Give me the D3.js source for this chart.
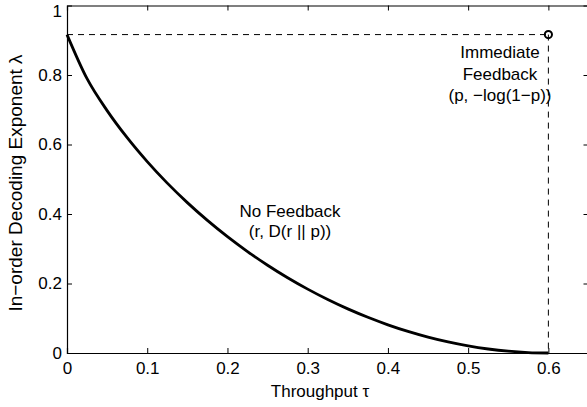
<!DOCTYPE html>
<html><head><meta charset="utf-8">
<script src="https://cdn.jsdelivr.net/npm/d3@7"></script>
<style>
html,body{margin:0;padding:0;background:#fff;}
svg{display:block;font-family:"Liberation Sans",Arial,Helvetica,sans-serif;}
</style></head>
<body>
<script>
// Data
const throughput = [0,0.025,0.05,0.075,0.1,0.125,0.15,0.175,0.2,0.225,0.25,0.275,0.3,0.325,0.35,0.375,0.4,0.425,0.45,0.475,0.5,0.525,0.55,0.575,0.6];
const exponent = [0.9163,0.7893,0.6975,0.6195,0.5507,0.4888,0.4328,0.3816,0.3348,0.2919,0.2526,0.2166,0.1838,0.1539,0.1269,0.1027,0.0811,0.0621,0.0457,0.0318,0.0204,0.0115,0.0051,0.0013,0];
const feedbackPoint = [0.6, 0.9163];
const xTicks = [0,0.1,0.2,0.3,0.4,0.5,0.6];
const yTicks = [0,0.2,0.4,0.6,0.8,1];
const xDomain = [0,0.65];
const yDomain = [0,1];

(function(){
const W=587,H=407;
const m={left:67,top:5.5,right:588.5,bottom:353};
const x=d3.scaleLinear().domain(xDomain).range([m.left,m.right]);
const y=d3.scaleLinear().domain(yDomain).range([m.bottom,m.top]);

const svg=d3.select("body").append("svg").attr("width",W).attr("height",H);

// dashed guides
svg.append("line").attr("x1",x(0)).attr("x2",x(feedbackPoint[0])).attr("y1",y(feedbackPoint[1])).attr("y2",y(feedbackPoint[1]))
  .attr("stroke","#000").attr("stroke-width",1).attr("stroke-dasharray","6,5");
svg.append("line").attr("x1",x(feedbackPoint[0])).attr("x2",x(feedbackPoint[0])).attr("y1",y(feedbackPoint[1])).attr("y2",y(0))
  .attr("stroke","#000").attr("stroke-width",1).attr("stroke-dasharray","6,5");

// curve
const pts=throughput.map((t,i)=>[t,exponent[i]]);
svg.append("path").datum(pts)
  .attr("d",d3.line().x(d=>x(d[0])).y(d=>y(d[1])).curve(d3.curveMonotoneX))
  .attr("fill","none").attr("stroke","#000").attr("stroke-width",2.8);

// point
svg.append("circle").attr("cx",x(feedbackPoint[0])).attr("cy",y(feedbackPoint[1])).attr("r",3.6)
  .attr("fill","none").attr("stroke","#000").attr("stroke-width",2);

// axes
const fs=17;
const gB=svg.append("g").attr("transform",`translate(0,${m.bottom})`)
  .call(d3.axisBottom(x).tickValues(xTicks).tickSize(-5).tickPadding(9).tickFormat(d3.format("")));
const gT=svg.append("g").attr("transform",`translate(0,${m.top})`)
  .call(d3.axisTop(x).tickValues(xTicks).tickSize(-5).tickFormat(""));
const gL=svg.append("g").attr("transform",`translate(${m.left},0)`)
  .call(d3.axisLeft(y).tickValues(yTicks).tickSize(-5).tickPadding(5).tickFormat(d3.format("")));
const gR=svg.append("g").attr("transform",`translate(${m.right},0)`)
  .call(d3.axisRight(y).tickValues(yTicks).tickSize(-5).tickFormat(""));
[gB,gT,gL,gR].forEach(g=>{
  g.select(".domain").attr("stroke","#000").attr("stroke-width",1.2);
  g.selectAll(".tick line").attr("stroke","#000").attr("stroke-width",1);
  g.selectAll("text").attr("font-size",fs).attr("fill","#000").attr("font-family","'Liberation Sans',Arial,sans-serif");
});
gB.selectAll(".tick").filter(d=>d===0).select("line").remove();
gT.selectAll(".tick").filter(d=>d===0).select("line").remove();
gL.selectAll(".tick").filter(d=>d===0||d===1).select("line").remove();
gR.selectAll(".tick").filter(d=>d===0||d===1).select("line").remove();
// keep the top "1" label inside the picture
gL.selectAll(".tick").filter(d=>d===1).select("text").attr("dy","0.62em");

// labels
svg.append("text").attr("x",320).attr("y",397).attr("text-anchor","middle").attr("font-size",fs).text("Throughput τ");
svg.append("text").attr("transform",`translate(22,183) rotate(-90)`).attr("text-anchor","middle").attr("font-size",19).text("In−order Decoding Exponent λ");

const ann1=[["Immediate",58],["Feedback",80],["(p, −log(1−p))",101]];
ann1.forEach(([t,yy])=>svg.append("text").attr("x",500).attr("y",yy).attr("text-anchor","middle").attr("font-size",fs).text(t));
const ann2=[["No Feedback",217],["(r, D(r || p))",237]];
ann2.forEach(([t,yy])=>svg.append("text").attr("x",290).attr("y",yy).attr("text-anchor","middle").attr("font-size",fs).text(t));
})();
</script>
</body></html>
